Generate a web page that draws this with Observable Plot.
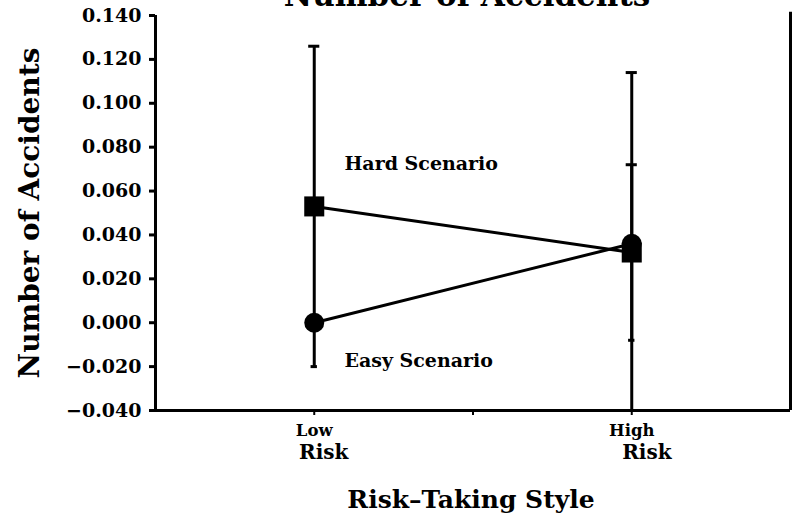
<!DOCTYPE html>
<html>
<head>
<meta charset="utf-8">
<script src="https://cdn.jsdelivr.net/npm/d3@7"></script>
<script src="https://cdn.jsdelivr.net/npm/@observablehq/plot@0.6"></script>
<style>
  html, body { margin: 0; padding: 0; background: #fff; }
  svg { display: block; }
</style>
</head>
<body>
<div id="chart"></div>
<script>
// ---- data ----
const title = "Number of Accidents";
const categories = ["Low", "High"];
const categoryLine2 = ["Risk", "Risk"];
const categoryPos = [1, 3];
const xTickPos = [1, 2, 3];
const hardMeans = [0.053, 0.032];
const hardErr = [0.073, 0.040];
const easyMeans = [0.000, 0.036];
const easyErr = [0.000, 0.078];
const yTicks = [-0.04, -0.02, 0.00, 0.02, 0.04, 0.06, 0.08, 0.10, 0.12, 0.14];
const seriesLabels = ["Hard Scenario", "Easy Scenario"];
const seriesLabelY = [0.0725, -0.0175];
const xTitle = "Risk\u2013Taking Style";
const yTitle = "Number of Accidents";

// ---- build table ----
const rows = [];
categories.forEach((c, i) => {
  rows.push({series: "Hard", x: categoryPos[i], y: hardMeans[i], err: hardErr[i]});
  rows.push({series: "Easy", x: categoryPos[i], y: easyMeans[i], err: easyErr[i]});
});
const bars = rows.filter(d => d.err > 0);
const caps = bars.flatMap(d => [
  {x: d.x, y: d.y + d.err, w: 0.035},
  {x: d.x, y: d.y - d.err, w: 0.02}
]);

const font = "DejaVu Serif";
const chart = Plot.plot({
  width: 798,
  height: 524,
  marginLeft: 155,
  marginRight: 8,
  marginTop: 15,
  marginBottom: 114,
  style: {fontFamily: font, color: "#000", background: "#fff", overflow: "visible"},
  x: {domain: [0, 4]},
  y: {domain: [-0.04, 0.14]},
  marks: [
    Plot.axisY({ticks: yTicks, tickFormat: d3.format(".3f"), tickSize: 6, tickPadding: 8,
      fontSize: 19, fontWeight: "bold", strokeWidth: 3, label: null}),
    Plot.axisX({ticks: xTickPos, tickFormat: () => "", tickSize: 5, strokeWidth: 2, label: null}),
    Plot.ruleX([0], {strokeWidth: 3}),
    Plot.ruleY([-0.04], {strokeWidth: 3}),
    Plot.ruleX([4], {y1: -0.04, y2: 0.1415, strokeWidth: 3}),
    // error bars
    Plot.ruleX(bars, {x: "x", y1: d => d.y - d.err, y2: d => d.y + d.err, strokeWidth: 3, clip: true}),
    Plot.ruleY(caps, {y: "y", x1: d => d.x - d.w, x2: d => d.x + d.w, strokeWidth: 3, clip: true}),
    // lines
    Plot.line(rows, {x: "x", y: "y", z: "series", strokeWidth: 3}),
    // markers
    Plot.dot(rows.filter(d => d.series === "Hard"), {x: "x", y: "y", symbol: "square", r: 11.3, fill: "#000"}),
    Plot.dot(rows.filter(d => d.series === "Easy"), {x: "x", y: "y", symbol: "circle", r: 10, fill: "#000"}),
    // series labels
    Plot.text(seriesLabels, {x: 1.19, y: (d, i) => seriesLabelY[i], text: d => d, textAnchor: "start",
      fontSize: 19, fontWeight: "bold"}),
    // x category labels
    Plot.text(categories, {x: (d, i) => categoryPos[i], frameAnchor: "bottom", text: d => d,
      dy: 25, fontSize: 16.5, fontWeight: "bold"}),
    Plot.text(categoryLine2, {x: (d, i) => categoryPos[i] + (i === 0 ? 0.06 : 0.095), frameAnchor: "bottom",
      text: d => d, dy: 48, fontSize: 20, fontWeight: "bold"}),
    // titles
    Plot.text([xTitle], {frameAnchor: "bottom", dx: -2, dy: 97, fontSize: 25, fontWeight: "bold", text: d => d}),
    Plot.text([yTitle], {frameAnchor: "left", textAnchor: "middle", dx: -125, dy: 0, rotate: -90, fontSize: 28,
      fontWeight: "bold", text: d => d}),
    Plot.text([title], {frameAnchor: "top", lineAnchor: "bottom", dx: -6, dy: -10, fontSize: 31,
      fontWeight: "bold", text: d => d})
  ]
});
document.getElementById("chart").appendChild(chart);
</script>
</body>
</html>
